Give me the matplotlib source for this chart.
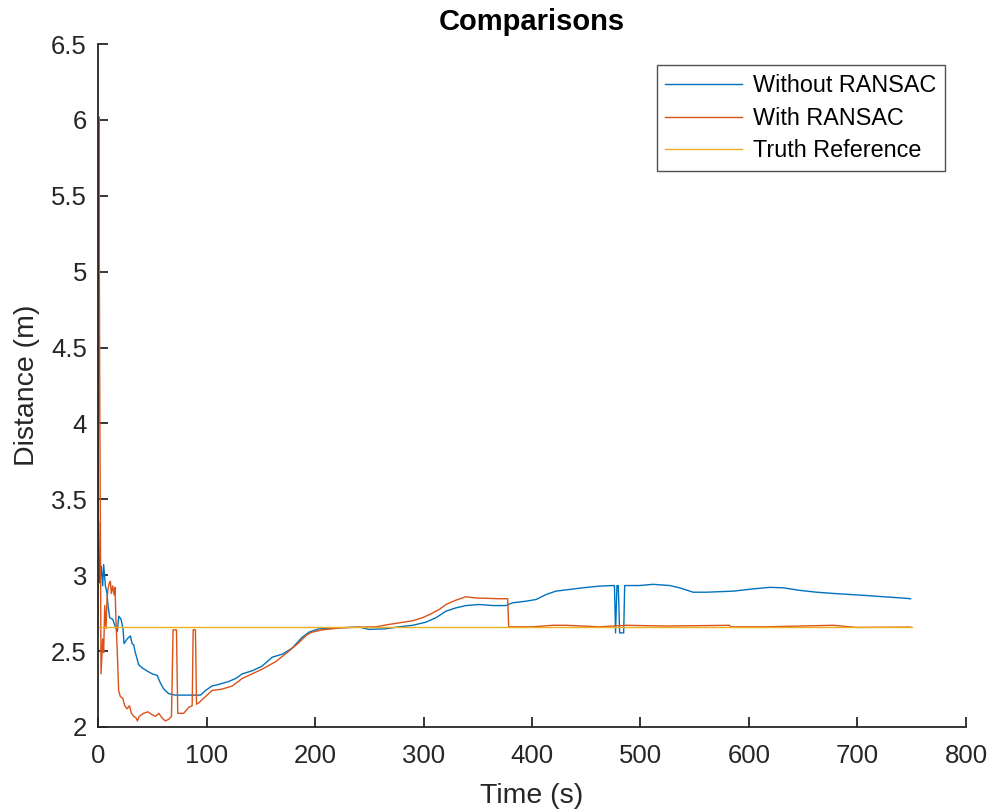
import matplotlib
matplotlib.use("Agg")
import matplotlib.pyplot as plt
import numpy as np

plt.rcParams['font.family'] = ['Liberation Sans', 'DejaVu Sans']

# Without RANSAC (blue)
t_blue = [0, 0.6, 1.5, 3, 4.3, 5.2, 6.8, 8.3, 9.2, 10.8, 13.5, 16, 17.8, 19.1, 21.2, 23, 24,
          26.8, 29.8, 31.4, 33, 34, 36, 37.5, 40.6, 45, 50, 54.5, 57.5, 60.6, 65, 71, 79, 87,
          94.5, 99, 105, 111, 120.6, 127, 133, 142, 151, 160.6, 170, 179, 188, 194.5, 203.7,
          213, 225, 240.7, 250, 265, 277.6, 290, 302, 311.5, 320.7, 330, 339, 351.5, 363.8,
          376, 382, 394.5, 403.8, 413, 422, 434.5, 446.8, 462, 474.5, 476, 477, 478.3, 479.5,
          480.8, 484.5, 485.4, 499.2, 511.5, 527, 536, 548.5, 560.8, 585.4, 604, 619.2, 631.5,
          647, 662.3, 677.7, 693, 708.5, 724, 739, 749]
v_blue = [3.36, 3.35, 2.95, 3.06, 2.93, 3.07, 2.93, 2.88, 2.80, 2.72, 2.71, 2.66, 2.63, 2.73,
          2.71, 2.65, 2.55, 2.58, 2.60, 2.55, 2.54, 2.50, 2.45, 2.41, 2.39, 2.37, 2.35, 2.34,
          2.29, 2.25, 2.22, 2.21, 2.21, 2.21, 2.21, 2.24, 2.27, 2.28, 2.30, 2.32, 2.35, 2.37,
          2.40, 2.46, 2.48, 2.52, 2.59, 2.625, 2.647, 2.65, 2.654, 2.658, 2.643, 2.647, 2.66,
          2.67, 2.69, 2.72, 2.763, 2.785, 2.80, 2.807, 2.80, 2.80, 2.818, 2.829, 2.84, 2.873,
          2.895, 2.906, 2.917, 2.928, 2.932, 2.932, 2.62, 2.932, 2.932, 2.62, 2.62, 2.932,
          2.932, 2.94, 2.932, 2.917, 2.888, 2.888, 2.895, 2.91, 2.92, 2.917, 2.90, 2.888,
          2.88, 2.873, 2.866, 2.858, 2.851, 2.845]

# With RANSAC (orange)
t_orange = [0, 0.8, 1.6, 2.8, 4.3, 5.2, 6.2, 7.4, 8.3, 9.2, 10.5, 11.4, 12.3, 13.5, 14.8,
            15.7, 16.6, 17.8, 19, 20.6, 22.8, 24.6, 26.8, 29, 30.8, 33, 35, 36.3, 38, 42, 46,
            50, 53, 56, 59, 62, 65, 67.7, 69.2, 72.3, 73.5, 79, 83.7, 86.8, 87.7, 89.8, 90.8,
            93, 97.5, 105, 114.5, 123.7, 133, 142, 151, 163.7, 176, 185, 193, 197.5, 206.8,
            225, 240.7, 256, 268.4, 277.6, 290, 299, 305.3, 311.5, 314.5, 320.7, 330, 339,
            348.4, 360.7, 370, 377.6, 378.5, 400.7, 419, 431.5, 462, 487, 524, 582, 583,
            616, 677.7, 699, 749]
v_orange = [2.66, 6.02, 4.2, 2.35, 2.58, 2.49, 2.80, 2.65, 2.84, 2.91, 2.95, 2.96, 2.88,
            2.93, 2.87, 2.92, 2.69, 2.49, 2.24, 2.20, 2.19, 2.14, 2.12, 2.14, 2.09, 2.07,
            2.06, 2.04, 2.07, 2.09, 2.10, 2.08, 2.07, 2.09, 2.06, 2.04, 2.05, 2.07, 2.64,
            2.64, 2.09, 2.09, 2.13, 2.14, 2.64, 2.64, 2.15, 2.16, 2.19, 2.24, 2.25, 2.27,
            2.32, 2.35, 2.38, 2.43, 2.50, 2.555, 2.61, 2.625, 2.64, 2.654, 2.658, 2.66,
            2.676, 2.686, 2.70, 2.72, 2.74, 2.763, 2.774, 2.807, 2.836, 2.858, 2.85, 2.847,
            2.845, 2.845, 2.66, 2.66, 2.67, 2.67, 2.66, 2.67, 2.665, 2.67, 2.66, 2.66, 2.67,
            2.656, 2.658]

# Truth reference
t_truth = [0, 750]
v_truth = [2.658, 2.658]

fig = plt.figure(figsize=(9.93, 8.11), dpi=100)
ax = fig.add_axes([0.0987, 0.1036, 0.8741, 0.8421])

ax.plot(t_blue, v_blue, color='#0072BD', lw=1.0, label='Without RANSAC')
ax.plot(t_orange, v_orange, color='#D95319', lw=1.0, label='With RANSAC')
ax.plot(t_truth, v_truth, color='#EDB120', lw=1.0, label='Truth Reference')

ax.set_xlim(0, 800)
ax.set_ylim(2, 6.5)
ax.set_xticks(np.arange(0, 801, 100))
ax.set_yticks(np.arange(2, 6.51, 0.5))
ax.set_yticklabels(['2', '2.5', '3', '3.5', '4', '4.5', '5', '5.5', '6', '6.5'])

for s in ['top', 'right']:
    ax.spines[s].set_visible(False)
for s in ['left', 'bottom']:
    ax.spines[s].set_color('#262626')
    ax.spines[s].set_linewidth(1.3)
ax.tick_params(direction='in', length=7, width=1.3, color='#262626',
               labelsize=18.5, labelcolor='#262626')
ax.tick_params(axis='x', pad=12)
ax.tick_params(axis='y', pad=8)

ax.set_xlabel('Time (s)', fontsize=20.5, color='#262626', labelpad=11)
ax.set_ylabel('Distance (m)', fontsize=20.5, color='#262626', labelpad=8)
ax.set_title('Comparisons', fontsize=21, fontweight='bold', pad=10)

leg = ax.legend(loc='upper right', fontsize=16.8, frameon=True, fancybox=False,
                edgecolor='#262626', handlelength=3.3, handletextpad=0.45,
                borderpad=0.38, labelspacing=0.42, borderaxespad=0,
                bbox_to_anchor=(0.9758, 0.9693))
leg.get_frame().set_linewidth(1.0)

fig.savefig('out.png', dpi=100)
